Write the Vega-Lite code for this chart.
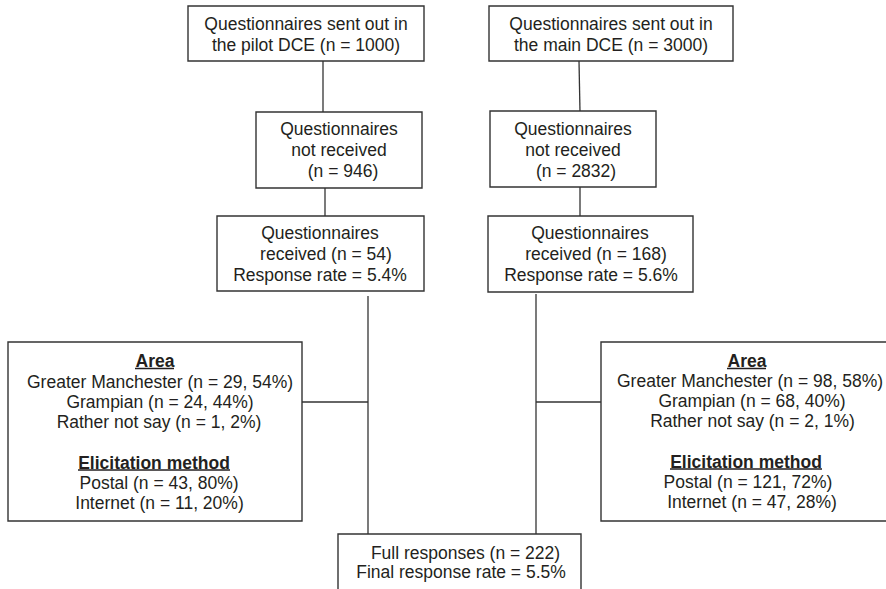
{
  "$schema": "https://vega.github.io/schema/vega-lite/v6.json",
  "width": 886,
  "height": 589,
  "autosize": {"type": "none"},
  "padding": 0,
  "background": "white",
  "config": {"view": {"stroke": null}},
  "datasets": {
    "links": [
      {"x": 323, "y": 61, "x2": 323, "y2": 112},
      {"x": 325, "y": 188, "x2": 325, "y2": 216},
      {"x": 368, "y": 296, "x2": 368, "y2": 534},
      {"x": 302, "y": 402, "x2": 368, "y2": 402},
      {"x": 579, "y": 61, "x2": 580, "y2": 112},
      {"x": 580, "y": 187, "x2": 580, "y2": 216},
      {"x": 536, "y": 294, "x2": 536, "y2": 534},
      {"x": 536, "y": 402, "x2": 601, "y2": 402}
    ],
    "boxes": [
      {"x": 188, "y": 6, "x2": 424, "y2": 61},
      {"x": 256, "y": 112, "x2": 422, "y2": 188},
      {"x": 217, "y": 216, "x2": 424, "y2": 291},
      {"x": 489, "y": 6, "x2": 733, "y2": 61},
      {"x": 490, "y": 111, "x2": 656, "y2": 187},
      {"x": 488, "y": 216, "x2": 693, "y2": 292},
      {"x": 8, "y": 342, "x2": 302, "y2": 521},
      {"x": 601, "y": 342, "x2": 905, "y2": 521},
      {"x": 338, "y": 534, "x2": 581, "y2": 610}
    ],
    "labels": [
      {"x": 306, "y": 24, "t": "Questionnaires sent out in", "b": "normal"},
      {"x": 306, "y": 45, "t": "the pilot DCE (n = 1000)", "b": "normal"},
      {"x": 611, "y": 24, "t": "Questionnaires sent out in", "b": "normal"},
      {"x": 611, "y": 45, "t": "the main DCE (n = 3000)", "b": "normal"},
      {"x": 339, "y": 129, "t": "Questionnaires", "b": "normal"},
      {"x": 339, "y": 150, "t": "not received", "b": "normal"},
      {"x": 343, "y": 171, "t": "(n = 946)", "b": "normal"},
      {"x": 573, "y": 129, "t": "Questionnaires", "b": "normal"},
      {"x": 573, "y": 150, "t": "not received", "b": "normal"},
      {"x": 576, "y": 171, "t": "(n = 2832)", "b": "normal"},
      {"x": 320, "y": 233, "t": "Questionnaires", "b": "normal"},
      {"x": 326, "y": 254, "t": "received (n = 54)", "b": "normal"},
      {"x": 320, "y": 275, "t": "Response rate = 5.4%", "b": "normal"},
      {"x": 590, "y": 233, "t": "Questionnaires", "b": "normal"},
      {"x": 596, "y": 254, "t": "received (n = 168)", "b": "normal"},
      {"x": 591, "y": 275, "t": "Response rate = 5.6%", "b": "normal"},
      {"x": 155, "y": 361, "t": "Area", "b": "bold"},
      {"x": 160, "y": 382, "t": "Greater Manchester (n = 29, 54%)", "b": "normal"},
      {"x": 160, "y": 402, "t": "Grampian (n = 24, 44%)", "b": "normal"},
      {"x": 159, "y": 422, "t": "Rather not say (n = 1, 2%)", "b": "normal"},
      {"x": 154, "y": 463, "t": "Elicitation method", "b": "bold"},
      {"x": 159, "y": 483, "t": "Postal (n = 43, 80%)", "b": "normal"},
      {"x": 159.5, "y": 503, "t": "Internet (n = 11, 20%)", "b": "normal"},
      {"x": 747, "y": 361, "t": "Area", "b": "bold"},
      {"x": 750, "y": 381, "t": "Greater Manchester (n = 98, 58%)", "b": "normal"},
      {"x": 752, "y": 401, "t": "Grampian (n = 68, 40%)", "b": "normal"},
      {"x": 752.5, "y": 421, "t": "Rather not say (n = 2, 1%)", "b": "normal"},
      {"x": 746, "y": 462, "t": "Elicitation method", "b": "bold"},
      {"x": 748, "y": 482, "t": "Postal (n = 121, 72%)", "b": "normal"},
      {"x": 752, "y": 502, "t": "Internet (n = 47, 28%)", "b": "normal"},
      {"x": 465.5, "y": 553, "t": "Full responses (n = 222)", "b": "normal"},
      {"x": 461, "y": 572, "t": "Final response rate = 5.5%", "b": "normal"}
    ],
    "underlines": [
      {"x": 135, "y": 368.5, "x2": 174, "y2": 368.5},
      {"x": 78, "y": 470, "x2": 230, "y2": 470},
      {"x": 727, "y": 368.5, "x2": 766, "y2": 368.5},
      {"x": 670, "y": 469, "x2": 822, "y2": 469}
    ]
  },
  "layer": [
    {
      "data": {"name": "links"},
      "mark": {"type": "rule", "color": "#333333", "strokeWidth": 1.3},
      "encoding": {
        "x": {"field": "x", "type": "quantitative", "scale": {"domain": [0, 886], "nice": false, "zero": false}, "axis": null},
        "y": {"field": "y", "type": "quantitative", "scale": {"domain": [0, 589], "nice": false, "zero": false, "reverse": true}, "axis": null},
        "x2": {"field": "x2"},
        "y2": {"field": "y2"}
      }
    },
    {
      "data": {"name": "boxes"},
      "mark": {"type": "rect", "fill": "white", "stroke": "#333333", "strokeWidth": 1.4},
      "encoding": {
        "x": {"field": "x", "type": "quantitative", "scale": {"domain": [0, 886], "nice": false, "zero": false}, "axis": null},
        "y": {"field": "y", "type": "quantitative", "scale": {"domain": [0, 589], "nice": false, "zero": false, "reverse": true}, "axis": null},
        "x2": {"field": "x2"},
        "y2": {"field": "y2"}
      }
    },
    {
      "data": {"name": "labels"},
      "transform": [{"filter": "datum.b === 'normal'"}],
      "mark": {"type": "text", "font": "Liberation Sans", "fontSize": 17.5, "dy": 1, "color": "#231f20", "align": "center", "baseline": "middle"},
      "encoding": {
        "x": {"field": "x", "type": "quantitative", "scale": {"domain": [0, 886], "nice": false, "zero": false}, "axis": null},
        "y": {"field": "y", "type": "quantitative", "scale": {"domain": [0, 589], "nice": false, "zero": false, "reverse": true}, "axis": null},
        "text": {"field": "t"}
      }
    },
    {
      "data": {"name": "labels"},
      "transform": [{"filter": "datum.b === 'bold'"}],
      "mark": {"type": "text", "font": "Liberation Sans", "fontSize": 17.5, "dy": 1, "fontWeight": "bold", "color": "#231f20", "align": "center", "baseline": "middle"},
      "encoding": {
        "x": {"field": "x", "type": "quantitative", "scale": {"domain": [0, 886], "nice": false, "zero": false}, "axis": null},
        "y": {"field": "y", "type": "quantitative", "scale": {"domain": [0, 589], "nice": false, "zero": false, "reverse": true}, "axis": null},
        "text": {"field": "t"}
      }
    },
    {
      "data": {"name": "underlines"},
      "mark": {"type": "rule", "color": "#231f20", "strokeWidth": 1.4},
      "encoding": {
        "x": {"field": "x", "type": "quantitative", "scale": {"domain": [0, 886], "nice": false, "zero": false}, "axis": null},
        "y": {"field": "y", "type": "quantitative", "scale": {"domain": [0, 589], "nice": false, "zero": false, "reverse": true}, "axis": null},
        "x2": {"field": "x2"},
        "y2": {"field": "y2"}
      }
    }
  ]
}
